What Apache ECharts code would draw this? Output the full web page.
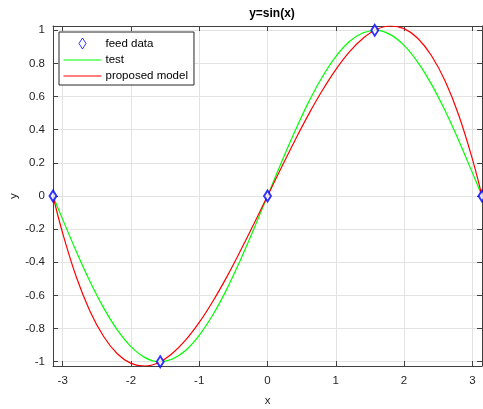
<!DOCTYPE html>
<html lang="en">
<head>
    <meta charset="UTF-8">
    <script src="https://cdn.jsdelivr.net/npm/echarts@6/dist/echarts.min.js"></script>
    <style>
        body, html {
            margin: 0;
            height: 100%;
            background: #fff;
        }

        #main {
            width: 483px;
            height: 409px;
        }
    </style>
    <title>y=sin(x)</title>
</head>
<body>

<div id="main"></div>
<script type="text/javascript">
    const myChart = echarts.init(document.getElementById('main'));

    // sample x positions
    const xs = [-3.1416, -3.0, -2.8, -2.6, -2.4, -2.2, -2.0, -1.8, -1.6, -1.4, -1.2, -1.0, -0.8, -0.6, -0.4, -0.2,
        0, 0.2, 0.4, 0.6, 0.8, 1.0, 1.2, 1.4, 1.6, 1.8, 2.0, 2.2, 2.4, 2.6, 2.8, 3.0, 3.1416];
    // green "test" curve
    const testY = [0, -0.141, -0.335, -0.516, -0.675, -0.808, -0.909, -0.974, -1.0, -0.985, -0.932, -0.841, -0.717, -0.565, -0.389, -0.199,
        0, 0.199, 0.389, 0.565, 0.717, 0.841, 0.932, 0.985, 1.0, 0.974, 0.909, 0.808, 0.675, 0.516, 0.335, 0.141, 0];
    // red "proposed model" curve
    const modelY = [0, -0.224, -0.489, -0.695, -0.848, -0.952, -1.010, -1.026, -1.006, -0.952, -0.870, -0.763, -0.635, -0.491, -0.334, -0.169,
        0, 0.169, 0.334, 0.491, 0.635, 0.763, 0.870, 0.952, 1.006, 1.026, 1.010, 0.952, 0.848, 0.695, 0.489, 0.224, 0];
    // blue diamonds
    const feedX = [-3.1416, -1.5708, 0, 1.5708, 3.1416];
    const feedY = [0, -1, 0, 1, 0];

    const pair = function (a, b) {
        return a.map(function (v, i) { return [v, b[i]]; });
    };

    const xMin = -3.1416, xMax = 3.1416;
    const yMin = -1.026, yMax = 1.026;
    const axisColor = '#404040';
    const font = 'Arial, "Liberation Sans", sans-serif';

    const lab = {color: '#262626', fontSize: 11.5, fontFamily: font};
    const tick = {show: true, inside: true, length: 5, lineStyle: {color: axisColor}};
    const line = {onZero: false, show: true, lineStyle: {color: axisColor}};

    // legend glyphs: the extra moveTo points keep the glyph at its own size in the 38x12 box
    const lineIcon = 'path://M0,0M38,12M0,5.4L38,5.4L38,6.6L0,6.6Z';
    const diamondIcon = 'path://M0,0M38,12M19,0.5L22.5,6L19,11.5L15.5,6Z';

    var option = {
        animation: false,
        title: {
            text: 'y=sin(x)',
            left: 267,
            top: 3,
            textAlign: 'center',
            textStyle: {fontSize: 12, fontWeight: 'bold', color: '#000', fontFamily: font}
        },
        legend: {
            orient: 'vertical',
            left: 59,
            top: 32,
            padding: [5, 6, 3, 4],
            itemGap: 4,
            itemWidth: 38,
            itemHeight: 12,
            backgroundColor: '#fff',
            borderColor: '#262626',
            borderWidth: 1,
            borderRadius: 0,
            textStyle: {fontSize: 11.5, color: '#000', fontFamily: font, padding: [0, 0, 0, -1]},
            data: [
                {name: 'feed data', icon: diamondIcon,
                    itemStyle: {color: '#fff', borderColor: '#0000ff', borderWidth: 1}},
                {name: 'test', icon: lineIcon, itemStyle: {color: '#00ff00', borderWidth: 0}},
                {name: 'proposed model', icon: lineIcon, itemStyle: {color: '#ff0000', borderWidth: 0}}
            ]
        },
        grid: {left: 53, right: 1, top: 26, bottom: 43, outerBoundsMode: 'none', containLabel: false},
        xAxis: [{
            type: 'value', min: xMin, max: xMax,
            name: 'x', nameLocation: 'middle', nameGap: 29,
            nameTextStyle: lab,
            axisLine: line,
            axisTick: tick,
            axisLabel: Object.assign({showMinLabel: false, showMaxLabel: false, margin: 9}, lab),
            splitLine: {show: true, lineStyle: {color: '#e3e3e3'}}
        }, {
            type: 'value', min: xMin, max: xMax, position: 'top',
            axisLine: line,
            axisTick: tick,
            axisLabel: {show: false},
            splitLine: {show: false}
        }],
        yAxis: [{
            type: 'value', min: yMin, max: yMax, splitNumber: 10,
            name: 'y', nameLocation: 'middle', nameGap: 33, nameMoveOverlap: false,
            nameTextStyle: lab,
            axisLine: line,
            axisTick: tick,
            axisLabel: Object.assign({showMinLabel: false, showMaxLabel: false, margin: 8}, lab),
            splitLine: {show: true, lineStyle: {color: '#e3e3e3'}}
        }, {
            type: 'value', min: yMin, max: yMax, splitNumber: 10, position: 'right',
            axisLine: line,
            axisTick: tick,
            axisLabel: {show: false},
            splitLine: {show: false}
        }],
        series: [
            {
                name: 'test',
                type: 'line',
                data: pair(xs, testY),
                symbol: 'none',
                smooth: 0.4,
                lineStyle: {color: '#00ff00', width: 1.2},
                itemStyle: {color: '#00ff00'},
                z: 2
            },
            {
                name: 'proposed model',
                type: 'line',
                data: pair(xs, modelY),
                symbol: 'none',
                smooth: 0.4,
                lineStyle: {color: '#ff0000', width: 1.2},
                itemStyle: {color: '#ff0000'},
                z: 3
            },
            {
                name: 'feed data',
                type: 'scatter',
                data: pair(feedX, feedY),
                symbol: 'emptyDiamond',
                symbolSize: [7, 11],
                clip: false,
                itemStyle: {color: '#0000ff', borderColor: '#0000ff', borderWidth: 1},
                z: 4
            }
        ]
    };
    myChart.setOption(option);

</script>
</body>
</html>
